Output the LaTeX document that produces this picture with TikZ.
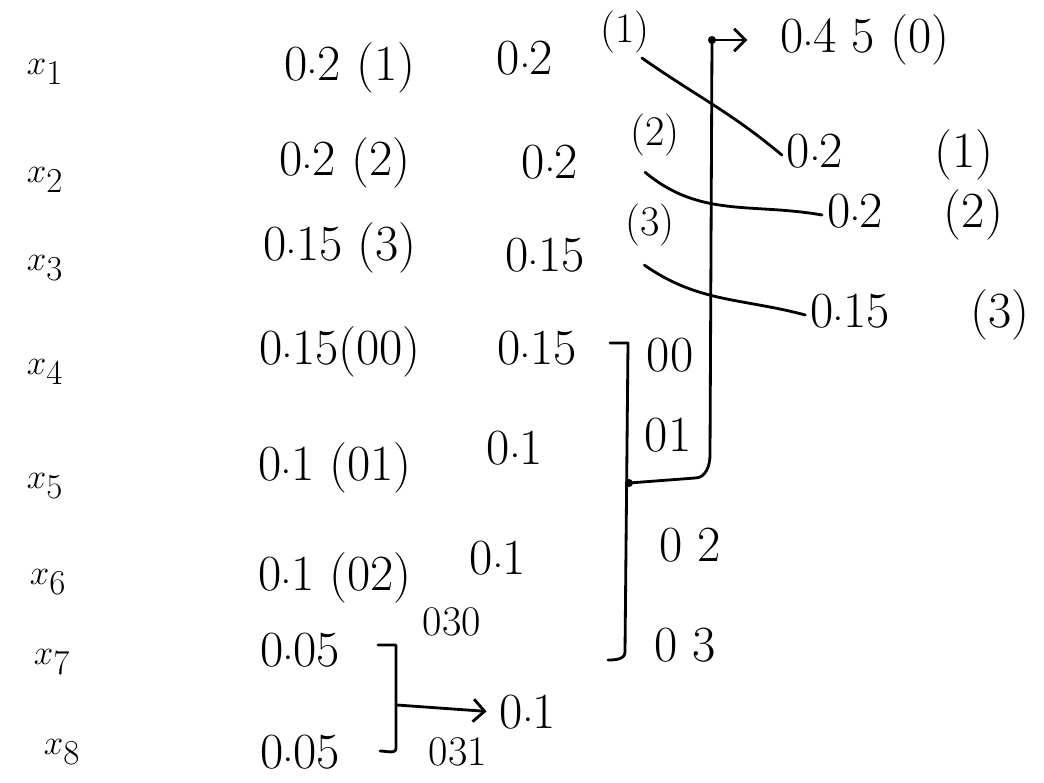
\documentclass[tikz,border=0pt]{standalone}
\usetikzlibrary{arrows.meta}
\begin{document}
\begin{tikzpicture}[
      x=0.025cm, y=-0.025cm,
      prob/.style={font=\fontsize{36}{42}\selectfont},
      sym/.style={font=\fontsize{42}{48}\selectfont},
      tag/.style={font=\fontsize{30}{34}\selectfont},
      wire/.style={line width=2pt, line cap=round, line join=round},
      signal/.style={wire, -{Straight Barb[length=8pt,width=16pt,line width=2pt]}}
    ]
    \useasboundingbox (0,0) rectangle (1044,782);
    % symbols
    \node[sym] (lab1) at (45,72) {$x_1$};
    \node[sym] (lab2) at (45,180) {$x_2$};
    \node[sym] (lab3) at (45,268) {$x_3$};
    \node[sym] (lab4) at (45,372) {$x_4$};
    \node[sym] (lab5) at (45,486) {$x_5$};
    \node[sym] (lab6) at (48,582) {$x_6$};
    \node[sym] (lab7) at (52,662) {$x_7$};
    \node[sym] (lab8) at (62,752) {$x_8$};
    % first column
    \node[prob] (pa1) at (350,68) {0$\cdot$2 (1)};
    \node[prob] (pa2) at (345,163) {0$\cdot$2 (2)};
    \node[prob] (pa3) at (340,248) {0$\cdot$15 (3)};
    \node[prob] (pa4) at (340,352) {0$\cdot$15(00)};
    \node[prob] (pa5) at (335,468) {0$\cdot$1 (01)};
    \node[prob] (pa6) at (335,578) {0$\cdot$1 (02)};
    \node[prob] (pa7) at (300,650) {0$\cdot$05};
    \node[prob] (pa8) at (300,752) {0$\cdot$05};
    \node[tag] (c30) at (452,622) {030};
    \node[tag] (c31) at (458,752) {031};
    % second column
    \node[prob] (pb1) at (525,58) {0$\cdot$2};
    \node[tag] (sb1) at (625,32) {(1)};
    \node[prob] (pb2) at (550,162) {0$\cdot$2};
    \node[tag] (sb2) at (655,135) {(2)};
    \node[prob] (pb3) at (545,255) {0$\cdot$15};
    \node[tag] (sb3) at (650,225) {(3)};
    \node[prob] (pb4) at (537,348) {0$\cdot$15};
    \node[prob] (pb5) at (515,448) {0$\cdot$1};
    \node[prob] (pb6) at (498,558) {0$\cdot$1};
    \node[prob] (pb7) at (528,712) {0$\cdot$1};
    \node[prob] (d00) at (670,355) {00};
    \node[prob] (d01) at (668,435) {01};
    \node[prob] (d02) at (690,545) {0 2};
    \node[prob] (d03) at (685,645) {0 3};
    % third column
    \node[prob] (pc0) at (865,40) {0$\cdot$4 5 (0)};
    \node[prob] (pc1) at (890,155) {0$\cdot$2\hspace{1.8em}(1)};
    \node[prob] (pc2) at (915,215) {0$\cdot$2\hspace{1.2em}(2)};
    \node[prob] (pc3) at (920,315) {0$\cdot$15\hspace{1.6em}(3)};
    % merge of x7 and x8
    \coordinate (t7) at (378,645);
    \coordinate (k7) at (396,645);
    \coordinate (k8) at (396,748);
    \coordinate (t8) at (380,751);
    \coordinate (j1) at (397,705);
    \draw[wire] (t7) -- (k7) -- (k8) to[out=-90,in=0] (t8);
    \draw[signal, shorten >=6pt] (j1) -- (pb7.west);
    % merge of the four lowest
    \coordinate (b0) at (610,343);
    \coordinate (b1) at (628,343);
    \coordinate (b2) at (625,652);
    \coordinate (b3) at (608,660);
    \coordinate (j2) at (629,483);
    \coordinate (r1) at (710,455);
    \coordinate (r0) at (712,40);
    \draw[wire] (b0) -- (b1) -- (b2) to[out=-90,in=0] (b3);
    \draw[wire] (j2) -- (695,478) to[out=0,in=-90] (r1) -- (r0);
    \fill (j2) circle (4);
    \fill (r0) circle (4);
    \draw[signal, shorten >=20pt] (r0) -- (pc0.west);
    % reordering
    \draw[wire] ([xshift=-9pt]sb1.south east) to[out=-35,in=140] (pc1.west);
    \draw[wire] ([shift={(-7pt,-8pt)}]sb2.south) to[out=-40,in=170] (pc2.west);
    \draw[wire] ([shift={(-4pt,-10pt)}]sb3.south) to[out=-35,in=165] (pc3.west);
  \end{tikzpicture}
\end{document}
